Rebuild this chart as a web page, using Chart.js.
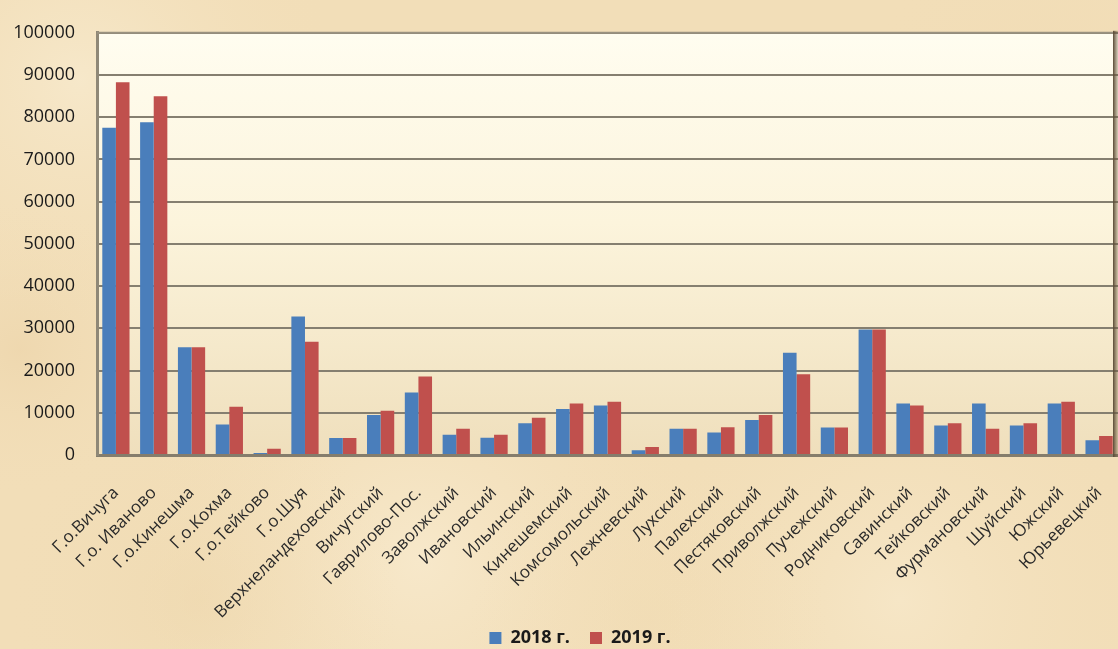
<!DOCTYPE html>
<html><head><meta charset="utf-8">
<script src="https://cdn.jsdelivr.net/npm/chart.js@4.4.0/dist/chart.umd.min.js"></script>
<style>html,body{margin:0;padding:0;background:#f2deb8;}canvas{display:block}</style>
</head><body>
<canvas id="c" width="1118" height="649"></canvas>
<script>
const categories = ["Г.о.Вичуга","Г.о. Иваново","Г.о.Кинешма","Г.о.Кохма","Г.о.Тейково","Г.о.Шуя","Верхнеландеховский","Вичугский","Гаврилово-Пос.","Заволжский","Ивановский","Ильинский","Кинешемский","Комсомольский","Лежневский","Лухский","Палехский","Пестяковский","Приволжский","Пучежский","Родниковский","Савинский","Тейковский","Фурмановский","Шуйский","Южский","Юрьевецкий"];
const values2018 = [77500,78800,25500,7200,500,32800,4000,9500,14800,4800,4100,7500,10900,11700,1100,6200,5300,8300,24200,6500,29700,12200,7000,12200,7000,12200,3500];
const values2019 = [88300,85000,25500,11400,1500,26800,4000,10500,18600,6200,4800,8800,12200,12600,1900,6200,6600,9500,19100,6500,29700,11700,7500,6200,7500,12600,4500];
const seriesNames = ["2018 г.","2019 г."];
const yTickValues = [0,10000,20000,30000,40000,50000,60000,70000,80000,90000,100000];

const bgPlugin = {
  id: 'bg',
  afterLayout(chart) {
    const lg = chart.legend;
    if (lg) { lg.left += 21; lg.right += 21; }
    chart.scales.x.bottom = chart.height;
  },
  beforeDraw(chart) {
    const ctx = chart.ctx, W = chart.width, H = chart.height;
    ctx.save();
    ctx.fillStyle = '#f2deb8';
    ctx.fillRect(0, 0, W, H);
    const spots = [[80,80,260,'rgba(250,240,216,0.55)'],[420,560,300,'rgba(252,242,220,0.5)'],[900,600,260,'rgba(250,238,212,0.5)'],[1050,120,200,'rgba(238,214,172,0.45)'],[200,600,200,'rgba(236,212,168,0.4)'],[650,620,180,'rgba(240,218,176,0.4)'],[20,350,150,'rgba(234,208,164,0.45)']];
    for (const [x,y,r,c] of spots) {
      const g = ctx.createRadialGradient(x,y,0,x,y,r);
      g.addColorStop(0,c); g.addColorStop(1,'rgba(242,222,184,0)');
      ctx.fillStyle = g; ctx.fillRect(0,0,W,H);
    }
    const a = chart.chartArea;
    const g2 = ctx.createLinearGradient(0, a.top, 0, a.bottom);
    g2.addColorStop(0, '#fffdf0');
    g2.addColorStop(0.45, '#fcf4dc');
    g2.addColorStop(1, '#efdfbc');
    ctx.fillStyle = g2;
    ctx.fillRect(a.left, a.top, a.right - a.left, a.bottom - a.top);
    ctx.restore();
  },
  afterDraw(chart) {
    const ctx = chart.ctx, a = chart.chartArea;
    ctx.save();
    const g = ctx.createLinearGradient(a.right - 5, 0, a.right, 0);
    g.addColorStop(0, '#5a4a36'); g.addColorStop(1, 'rgba(120,100,70,0.3)');
    ctx.fillStyle = g;
    ctx.fillRect(a.right - 5, a.top - 2, 5, a.bottom - a.top + 4);
    ctx.strokeStyle = '#9a9280'; ctx.lineWidth = 2;
    ctx.beginPath(); ctx.moveTo(a.left, a.top); ctx.lineTo(a.right - 5, a.top); ctx.stroke();
    ctx.restore();
  }
};

new Chart(document.getElementById('c'), {
  type: 'bar',
  data: {
    labels: categories,
    datasets: [
      { label: seriesNames[0], data: values2018, backgroundColor: '#4a7ebb', borderWidth: 0, categoryPercentage: 0.72, barPercentage: 1.0 },
      { label: seriesNames[1], data: values2019, backgroundColor: '#c0504d', borderWidth: 0, categoryPercentage: 0.72, barPercentage: 1.0 }
    ]
  },
  options: {
    responsive: false,
    animation: false,
    devicePixelRatio: 1,
    layout: { padding: { top: 22, right: 0, bottom: -8, left: 0 } },
    plugins: {
      legend: {
        position: 'bottom',
        labels: { boxWidth: 12, boxHeight: 12, padding: 20, color: '#1a1a1a', font: { family: 'Open Sans', size: 18, weight: 'bold' } }
      },
      tooltip: { enabled: false }
    },
    scales: {
      x: {
        grid: { display: false, drawTicks: false },
        border: { display: true, color: '#857d6c', width: 3 },
        ticks: { autoSkip: false, maxRotation: 45, minRotation: 45, padding: 28, color: '#2a2a2a', font: { family: 'Open Sans', size: 17 } },
        afterFit(s) { s.height = 154; s.paddingLeft = 0; s.paddingRight = 0; }
      },
      y: {
        min: 0, max: 100000,
        afterBuildTicks(s) { s.ticks = yTickValues.map(v => ({ value: v })); },
        grid: { color: '#857f70', lineWidth: 2, drawTicks: false },
        border: { display: true, color: '#8f8877', width: 3 },
        ticks: { padding: 22, color: '#1a1a1a', font: { family: 'Open Sans', size: 18 }, callback: v => String(v) },
        afterFit(s) { s.width = 97; }
      }
    }
  },
  plugins: [bgPlugin]
});
</script>
</body></html>
